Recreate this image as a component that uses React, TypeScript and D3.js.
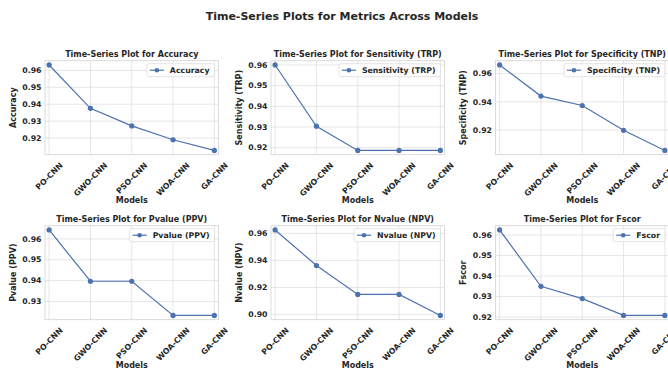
import React, { useEffect, useRef } from 'react'
import * as d3 from 'd3'

// categories on the x axis
const models = ['PO-CNN', 'GWO-CNN', 'PSO-CNN', 'WOA-CNN', 'GA-CNN']

// series values
const accuracy = [0.9632, 0.9376, 0.9272, 0.919, 0.9127]
const sensitivity = [0.96, 0.9304, 0.9187, 0.9187, 0.9187]
const specificity = [0.9662, 0.9441, 0.9374, 0.9198, 0.9055]
const pvalue = [0.9643, 0.9397, 0.9397, 0.9233, 0.9233]
const nvalue = [0.9625, 0.9362, 0.9148, 0.9148, 0.8993]
const fscor = [0.9625, 0.935, 0.929, 0.9208, 0.9208]

// y tick labels per panel
const ticksA = [0.92, 0.93, 0.94, 0.95, 0.96]
const ticksB = [0.92, 0.93, 0.94, 0.95, 0.96]
const ticksC = [0.92, 0.94, 0.96]
const ticksD = [0.93, 0.94, 0.95, 0.96]
const ticksE = [0.9, 0.92, 0.94, 0.96]
const ticksF = [0.92, 0.93, 0.94, 0.95, 0.96]

const panels = [
  { name: 'Accuracy', values: accuracy, ticks: ticksA },
  { name: 'Sensitivity (TRP)', values: sensitivity, ticks: ticksB },
  { name: 'Specificity (TNP)', values: specificity, ticks: ticksC },
  { name: 'Pvalue (PPV)', values: pvalue, ticks: ticksD },
  { name: 'Nvalue (NPV)', values: nvalue, ticks: ticksE },
  { name: 'Fscor', values: fscor, ticks: ticksF },
]

const W = 668
const H = 371
const FONT = '"DejaVu Sans", sans-serif'
const BLUE = '#4c72b0'
const TEXT = '#262626'
const TICK = '7.8px'

const colLeft = [45, 271, 495.5]
const rowTop = [60.7, 225.7]
const pw = 173.5
const ph = 94

function App() {
  const ref = useRef<SVGSVGElement>(null)

  useEffect(() => {
    const svg = d3.select(ref.current)
    svg.selectAll('*').remove()

    svg.append('rect').attr('width', W).attr('height', H).attr('fill', 'white')

    svg.append('text')
      .attr('x', 342).attr('y', 20)
      .attr('text-anchor', 'middle')
      .style('font-family', FONT).style('font-weight', 'bold').style('font-size', '11px')
      .attr('fill', TEXT)
      .text('Time-Series Plots for Metrics Across Models')

    panels.forEach((p, i) => {
      const left = colLeft[i % 3]
      const top = rowTop[Math.floor(i / 3)]
      const g = svg.append('g').attr('transform', `translate(${left},${top})`)

      const x = d3.scalePoint().domain(models).range([0, pw]).padding(0.1)
      const lo = d3.min(p.values) as number
      const hi = d3.max(p.values) as number
      const pad = (hi - lo) * 0.05
      const y = d3.scaleLinear().domain([lo - pad, hi + pad]).range([ph, 0])

      // grid
      g.selectAll('.gx').data(models).enter().append('line')
        .attr('x1', d => x(d) as number).attr('x2', d => x(d) as number)
        .attr('y1', 0).attr('y2', ph)
        .attr('stroke', '#e0e0e0').attr('stroke-width', 0.8)
      g.selectAll('.gy').data(p.ticks).enter().append('line')
        .attr('x1', 0).attr('x2', pw)
        .attr('y1', d => y(d)).attr('y2', d => y(d))
        .attr('stroke', '#e0e0e0').attr('stroke-width', 0.8)

      // frame
      g.append('rect').attr('width', pw).attr('height', ph)
        .attr('fill', 'none').attr('stroke', '#d2d2d2').attr('stroke-width', 0.8)

      // y tick labels
      g.selectAll('.ty').data(p.ticks).enter().append('text')
        .attr('x', -3.5).attr('y', d => y(d))
        .attr('dy', '0.35em')
        .attr('text-anchor', 'end')
        .style('font-family', FONT).style('font-weight', 'bold').style('font-size', TICK)
        .attr('fill', TEXT)
        .text(d => d3.format('.2f')(d))

      // x tick labels, rotated 45 and centred on the tick
      models.forEach(m => {
        const t = g.append('text')
          .attr('text-anchor', 'middle')
          .attr('dy', '0.35em')
          .style('font-family', FONT).style('font-weight', 'bold').style('font-size', TICK)
          .attr('fill', TEXT)
          .text(m)
        const w = (t.node() as SVGTextElement).getComputedTextLength()
        const half = (w + 7.8) / (2 * Math.SQRT2)
        t.attr('transform', `translate(${x(m)},${ph + 6.5 + half}) rotate(-45)`)
      })

      // axis labels
      g.append('text')
        .attr('x', pw / 2).attr('y', ph + 48)
        .attr('text-anchor', 'middle')
        .style('font-family', FONT).style('font-weight', 'bold').style('font-size', '8px')
        .attr('fill', TEXT)
        .text('Models')
      g.append('text')
        .attr('transform', `translate(-32,${ph / 2}) rotate(-90)`)
        .attr('text-anchor', 'middle')
        .attr('dy', '0.35em')
        .style('font-family', FONT).style('font-weight', 'bold').style('font-size', '8px')
        .attr('fill', TEXT)
        .text(p.name)

      // subplot title
      g.append('text')
        .attr('x', pw / 2).attr('y', -3.5)
        .attr('text-anchor', 'middle')
        .style('font-family', FONT).style('font-weight', 'bold').style('font-size', '8px')
        .attr('fill', TEXT)
        .text('Time-Series Plot for ' + p.name)

      // series
      const line = d3.line<number>()
        .x((d, j) => x(models[j]) as number)
        .y(d => y(d))
      g.append('path').datum(p.values)
        .attr('d', line)
        .attr('fill', 'none').attr('stroke', BLUE).attr('stroke-width', 1.2)
      g.selectAll('.pt').data(p.values).enter().append('circle')
        .attr('cx', (d, j) => x(models[j]) as number)
        .attr('cy', d => y(d))
        .attr('r', 2.6)
        .attr('fill', BLUE)

      // legend
      const lg = g.append('g')
      const lt = lg.append('text')
        .attr('dy', '0.35em')
        .style('font-family', FONT).style('font-weight', 'bold').style('font-size', TICK)
        .attr('fill', TEXT)
        .text(p.name)
      const tw = (lt.node() as SVGTextElement).getComputedTextLength()
      const bw = tw + 28
      const bx = pw - 4 - bw
      const by = 3
      const bh = 13
      lg.insert('rect', 'text')
        .attr('x', bx).attr('y', by).attr('width', bw).attr('height', bh)
        .attr('rx', 2)
        .attr('fill', 'white').attr('fill-opacity', 0.85)
        .attr('stroke', '#dcdcdc').attr('stroke-width', 0.8)
      lg.append('line')
        .attr('x1', bx + 3).attr('x2', bx + 17)
        .attr('y1', by + bh / 2).attr('y2', by + bh / 2)
        .attr('stroke', BLUE).attr('stroke-width', 1.2)
      lg.append('circle')
        .attr('cx', bx + 10).attr('cy', by + bh / 2).attr('r', 2.3)
        .attr('fill', BLUE)
      lt.attr('x', bx + 23).attr('y', by + bh / 2)
    })
  }, [])

  return (
    <svg ref={ref} width={W} height={H}
      style={{ position: 'absolute', left: 0, top: 0 }} />
  )
}

export default App
